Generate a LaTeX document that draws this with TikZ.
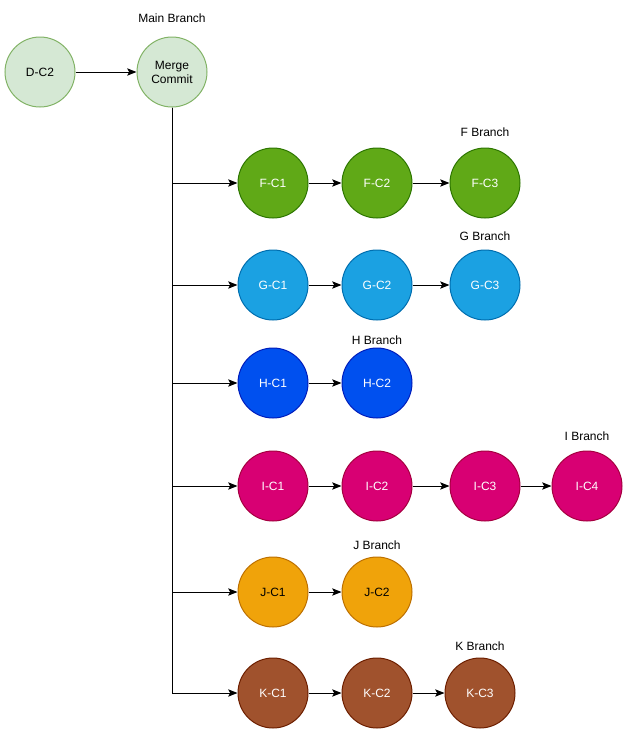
\documentclass[tikz,border=0pt]{standalone}
\usepackage{fontspec}
\setmainfont{Liberation Sans}
\definecolor{mainfill}{HTML}{D5E8D4}
\definecolor{mainline}{HTML}{82B366}
\definecolor{ffill}{HTML}{60A917}
\definecolor{fline}{HTML}{2D7600}
\definecolor{gfill}{HTML}{1BA1E2}
\definecolor{gline}{HTML}{006EAF}
\definecolor{hfill}{HTML}{0050EF}
\definecolor{hline}{HTML}{001DBC}
\definecolor{ifill}{HTML}{D80073}
\definecolor{iline}{HTML}{A50040}
\definecolor{jfill}{HTML}{F0A30A}
\definecolor{jline}{HTML}{BD7000}
\definecolor{kfill}{HTML}{A0522D}
\definecolor{kline}{HTML}{6D1F00}
\usetikzlibrary{arrows.meta, positioning}

\tikzset{
  commit/.style={circle, minimum size=52.5pt, inner sep=0pt, line width=0.75pt,
    font=\fontsize{9}{10.5}\selectfont, align=center},
  maincommit/.style={commit, draw=mainline, fill=mainfill},
  fcommit/.style={commit, draw=fline, fill=ffill, text=white},
  gcommit/.style={commit, draw=gline, fill=gfill, text=white},
  hcommit/.style={commit, draw=hline, fill=hfill, text=white},
  icommit/.style={commit, draw=iline, fill=ifill, text=white},
  jcommit/.style={commit, draw=jline, fill=jfill},
  kcommit/.style={commit, draw=kline, fill=kfill, text=white},
  branchlabel/.style={font=\fontsize{9}{10.5}\selectfont, inner sep=0pt},
  link/.style={line width=0.75pt, -{Stealth[length=7pt, width=5.5pt, inset=1.5pt]}}
}

\begin{document}
\begin{tikzpicture}[x=0.75pt, y=-0.75pt]
  \useasboundingbox (0,0) rectangle (642,743);

  % main branch
  \node[maincommit] (d2) at (40,72) {D-C2};
  \node[maincommit] (merge) at (172,72) {Merge\\Commit};
  \node[branchlabel] (mainlbl) at (172,18) {Main Branch};
  \draw[link] (d2) -- (merge);

  % F branch
  \node[fcommit] (f1) at (273,183) {F-C1};
  \node[fcommit] (f2) at (377,183) {F-C2};
  \node[fcommit] (f3) at (485,183) {F-C3};
  \node[branchlabel] (flbl) at (485,132) {F Branch};

  % G branch
  \node[gcommit] (g1) at (273,285) {G-C1};
  \node[gcommit] (g2) at (377,285) {G-C2};
  \node[gcommit] (g3) at (485,285) {G-C3};
  \node[branchlabel] (glbl) at (485,236) {G Branch};

  % H branch
  \node[hcommit] (h1) at (273,383) {H-C1};
  \node[hcommit] (h2) at (377,383) {H-C2};
  \node[branchlabel] (hlbl) at (377,340) {H Branch};

  % I branch
  \node[icommit] (i1) at (273,486) {I-C1};
  \node[icommit] (i2) at (377,486) {I-C2};
  \node[icommit] (i3) at (485,486) {I-C3};
  \node[icommit] (i4) at (587,486) {I-C4};
  \node[branchlabel] (ilbl) at (587,436) {I Branch};

  % J branch
  \node[jcommit] (j1) at (273,592) {J-C1};
  \node[jcommit] (j2) at (377,592) {J-C2};
  \node[branchlabel] (jlbl) at (377,545) {J Branch};

  % K branch
  \node[kcommit] (k1) at (273,693) {K-C1};
  \node[kcommit] (k2) at (377,693) {K-C2};
  \node[kcommit] (k3) at (480,693) {K-C3};
  \node[branchlabel] (klbl) at (480,646) {K Branch};

  % from merge to each branch
  \foreach \b in {f1, g1, h1, i1, j1, k1}
    \draw[link] (merge.south) |- (\b);

  % along each branch
  \foreach \a/\b in {f1/f2, f2/f3, g1/g2, g2/g3, h1/h2, i1/i2, i2/i3, i3/i4, j1/j2, k1/k2, k2/k3}
    \draw[link] (\a) -- (\b);
\end{tikzpicture}
\end{document}
